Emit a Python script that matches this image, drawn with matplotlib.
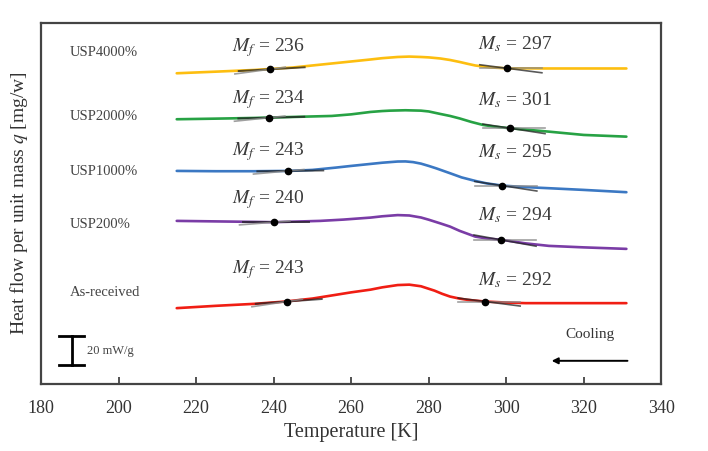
import matplotlib.pyplot as plt

plt.rcParams['font.family'] = ['Liberation Serif', 'DejaVu Serif']
plt.rcParams['mathtext.fontset'] = 'stix'

# curves (offset heat flow, arbitrary units)
t_yel = [215, 225, 235, 245, 255, 265, 268, 272, 275, 278, 280, 283, 285.5, 288, 290, 292, 296, 300, 310, 320, 331]
q_yel = [310.7, 312.3, 314, 316.5, 320.5, 324.5, 325.8, 327, 327.4, 327, 326.6, 325.5, 324, 322, 320.2, 318.5, 316.5, 315.7, 315.5, 315.5, 315.5]

t_grn = [215, 225, 235, 245, 255, 260, 265, 268, 270, 274, 278, 280, 283, 285.5, 288, 291, 294, 297, 301, 311, 320, 331]
q_grn = [264.7, 265.3, 266, 267, 268, 269.6, 272, 272.9, 273.3, 273.7, 273.3, 272.5, 270, 268, 265.5, 262, 259, 257.3, 255.7, 252.3, 249, 247.3]

t_blu = [215, 225, 235, 244, 250, 256, 260, 265, 268, 272, 274, 276, 278, 280, 282, 285.5, 288.5, 292, 295, 299, 305, 311, 320, 331]
q_blu = [213, 212.7, 212.7, 213, 214, 216.3, 218, 220, 221.2, 222.4, 222.5, 221.8, 220.3, 218, 215.5, 210.7, 206.5, 203, 200.5, 198.3, 196.8, 195.7, 194, 191.7]

t_pur = [215, 225, 235, 240, 252, 258, 265, 268, 272, 275, 278, 280, 283, 285.5, 288, 292, 295, 299, 305, 311, 320, 331]
q_pur = [163, 162.5, 162, 161.7, 163, 164.3, 166.3, 167.6, 168.8, 168.4, 166.4, 164.2, 160.5, 157.3, 153, 147.3, 145.4, 144, 140.5, 138, 136.5, 135]

t_red = [215, 225, 235, 243, 250, 256, 260, 265, 268, 272, 275, 278, 281.5, 283.5, 285.5, 288, 290, 294.6, 300, 305, 320, 331]
q_red = [75.7, 78, 80, 82.3, 85.3, 89, 91.5, 94.2, 96.5, 98.8, 99.2, 97.6, 93.2, 90, 87.3, 85.2, 84, 82.3, 81.3, 80.7, 80.7, 80.7]

samples = ['USP4000%', 'USP2000%', 'USP1000%', 'USP200%', 'As-received']
colors = ['#FDBE10', '#27A244', '#3B78C3', '#7A3CA6', '#F01E14']
curves = [(t_yel, q_yel), (t_grn, q_grn), (t_blu, q_blu), (t_pur, q_pur), (t_red, q_red)]
label_y = [331, 267, 212, 159, 91]

# transformation temperatures (labels) and marker positions on the plot
mf_vals = [236, 234, 243, 240, 243]
ms_vals = [297, 301, 295, 294, 292]
mf_pt = [(239, 314.7), (238.9, 266.3), (243.8, 213), (240.2, 161.7), (243.4, 82.3)]
ms_pt = [(300.2, 315.7), (301, 255.7), (298.9, 198.3), (298.7, 144), (294.6, 82.3)]
mf_slope = [0.22, 0.1, 0.05, 0.0, 0.28]
ms_slope = [-0.5, -0.6, -0.6, -0.7, -0.5]
mf_lab_y = [336, 284, 232, 184, 114]
ms_lab_y = [340, 284, 232, 169, 104]

fig = plt.figure(figsize=(7.08, 4.51), dpi=100)
ax = fig.add_axes([0.058, 0.149, 0.876, 0.80])

for (t, q), c in zip(curves, colors):
    ax.plot(t, q, color=c, lw=1.9, solid_capstyle='round', solid_joinstyle='round')

for i in range(5):
    # tangent construction lines
    x0, y0 = mf_pt[i]
    s = mf_slope[i]
    ax.plot([x0 - 8, x0 + 9], [y0 - 8 * s, y0 + 9 * s], color='#222222', lw=1.4, alpha=0.75)
    s2 = s + 0.3
    ax.plot([x0 - 9, x0 + 4], [y0 - 9 * s2, y0 + 4 * s2], color='#888888', lw=1.2, alpha=0.8)
    x1, y1 = ms_pt[i]
    ax.plot([x1 - 7, x1 + 9], [y1, y1], color='#888888', lw=1.2, alpha=0.8)
    s3 = ms_slope[i]
    ax.plot([x1 - 7, x1 + 9], [y1 - 7 * s3, y1 + 9 * s3], color='#222222', lw=1.2, alpha=0.75)
    ax.plot([x0, x1], [y0, y1], 'o', color='black', ms=4.5, ls='none')

    ax.text(238.6, mf_lab_y[i], '$M_f$ = %d' % mf_vals[i], fontsize=14,
            ha='center', va='center', color='#3a3a3a')
    ax.text(302.3, ms_lab_y[i], '$M_s$ = %d' % ms_vals[i], fontsize=14,
            ha='center', va='center', color='#3a3a3a')
    ax.text(187.5, label_y[i], samples[i], fontsize=10.5, ha='left', va='center',
            color='#444444')

# scale bar
ax.plot([187.9, 187.9], [19, 48], color='black', lw=2)
ax.plot([184.6, 191.1], [48, 48], color='black', lw=2)
ax.plot([184.6, 191.1], [19, 19], color='black', lw=2)
ax.text(191.8, 33, '20 mW/g', fontsize=9, ha='left', va='center', color='#444444')

# cooling arrow
ax.annotate('', xy=(311, 23), xytext=(332, 23),
            arrowprops=dict(arrowstyle='-|>', color='black', lw=1.4, mutation_scale=9))
ax.text(321.7, 49, 'Cooling', fontsize=11, ha='center', va='center', color='#333333')

ax.set_xlim(180, 340)
ax.set_ylim(0, 361)
ax.set_xticks(range(180, 341, 20))
ax.set_yticks([])
ax.tick_params(axis='x', direction='in', length=5, width=1.2, pad=12, labelsize=13,
               colors='#333333')
for sp in ax.spines.values():
    sp.set_color('#444444')
    sp.set_linewidth(1.6)
ax.set_xlabel('Temperature [K]', fontsize=14.5, color='#333333', labelpad=4)
ax.set_ylabel('Heat flow per unit mass $q$ [mg/w]', fontsize=14, color='#333333', labelpad=8)

fig.savefig('out.png', dpi=100)
